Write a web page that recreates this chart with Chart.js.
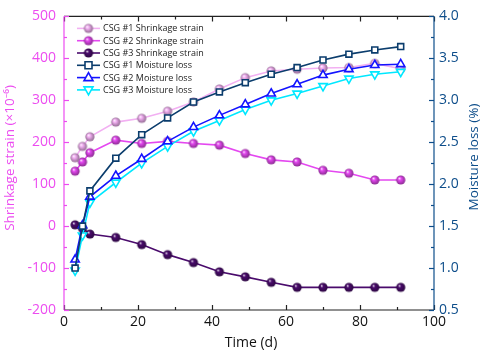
<!DOCTYPE html>
<html>
<head>
<meta charset="utf-8">
<script src="https://cdn.jsdelivr.net/npm/chart.js@4.4.0/dist/chart.umd.min.js"></script>
<style>
  html, body { margin: 0; padding: 0; background: #fff; }
  #wrap { width: 484px; height: 354px; }
</style>
</head>
<body>
<div id="wrap"><canvas id="chart" width="484" height="354"></canvas></div>
<script>
// curing age (days)
const days = [3, 5, 7, 14, 21, 28, 35, 42, 49, 56, 63, 70, 77, 84, 91];

// shrinkage strain (x10^-6), left axis
const shrink1 = [163, 190, 213, 248, 257, 274, 296, 327, 354, 370, 374, 377, 378, 388, 375];
const shrink2 = [131, 153, 175, 205, 197, 202, 197, 193, 173, 158, 153, 133, 126, 110, 110];
const shrink3 = [3, -5, -19, -27, -44, -68, -87, -109, -121, -134, -146, -146, -146, -146, -146];

// moisture loss (%), right axis
const moist1 = [1.00, 1.50, 1.92, 2.31, 2.59, 2.79, 2.98, 3.10, 3.21, 3.31, 3.39, 3.48, 3.55, 3.60, 3.64];
const moist2 = [1.10, 1.51, 1.85, 2.10, 2.30, 2.51, 2.68, 2.82, 2.95, 3.08, 3.19, 3.30, 3.37, 3.42, 3.43];
const moist3 = [0.97, 1.39, 1.78, 2.02, 2.25, 2.45, 2.63, 2.76, 2.89, 3.00, 3.08, 3.17, 3.26, 3.31, 3.34];

const seriesNames = [
    'CSG #1 Shrinkage strain', 'CSG #2 Shrinkage strain', 'CSG #3 Shrinkage strain',
    'CSG #1 Moisture loss', 'CSG #2 Moisture loss', 'CSG #3 Moisture loss'
];
const xTitle = 'Time (d)';
const leftTitle = 'Shrinkage strain (×10⁻⁶)';
const rightTitle = 'Moisture loss (%)';

const FONT = '"Open Sans", "Noto Sans", sans-serif';
const LEFT_COLOR = '#ec4cf0';
const RIGHT_COLOR = '#0d4d8a';

// shaded ball marker like the Origin "sphere" symbol
function sphere(color, r) {
    const c = document.createElement('canvas');
    const s = Math.ceil(r * 2 + 2);
    c.width = s;
    c.height = s;
    const g = c.getContext('2d');
    const cx = s / 2, cy = s / 2;
    const grad = g.createRadialGradient(cx - r * 0.35, cy - r * 0.4, 0, cx, cy, r);
    grad.addColorStop(0, '#ffffff');
    grad.addColorStop(0.35, color);
    grad.addColorStop(1, shade(color, 0.6));
    g.fillStyle = grad;
    g.beginPath();
    g.arc(cx, cy, r, 0, Math.PI * 2);
    g.fill();
    return c;
}

function shade(hex, f) {
    const n = parseInt(hex.slice(1), 16);
    const r = Math.round(((n >> 16) & 255) * f);
    const gg = Math.round(((n >> 8) & 255) * f);
    const b = Math.round((n & 255) * f);
    return `rgb(${r},${gg},${b})`;
}

const colors = ['#f2b0f2', '#e448f0', '#4a0b6c', '#0b3d6d', '#1414ff', '#00e8ff'];
const balls = colors.slice(0, 3).map(c => sphere(c, 4.6));

function shrinkSet(i, vals) {
    return {
        label: seriesNames[i],
        data: days.map((d, k) => ({ x: d, y: vals[k] })),
        yAxisID: 'y',
        borderColor: colors[i],
        borderWidth: 1.6,
        pointStyle: balls[i],
        pointRadius: 5,
        order: 3 + i,
    };
}

function moistSet(i, vals, style, rot) {
    return {
        label: seriesNames[i],
        data: days.map((d, k) => ({ x: d, y: vals[k] })),
        yAxisID: 'y1',
        borderColor: colors[i],
        borderWidth: 1.6,
        pointStyle: style,
        rotation: rot,
        pointRadius: style === 'rect' ? 4.2 : 4.8,
        pointBorderWidth: 1.6,
        pointBackgroundColor: '#ffffff',
        pointBorderColor: colors[i],
        order: i - 3,
    };
}

// draws inward ticks, axis frame, axis titles and the legend box
const framePlugin = {
    id: 'frame',
    afterDraw(chart) {
        const { ctx, chartArea: a, scales } = chart;
        ctx.save();
        ctx.lineWidth = 1.2;

        // bottom / top
        ctx.strokeStyle = '#222';
        for (let v = 0; v <= 100; v += 10) {
            const px = Math.round(scales.x.getPixelForValue(v)) + 0.5;
            const len = v % 20 === 0 ? 5 : 3;
            ctx.beginPath();
            ctx.moveTo(px, a.bottom); ctx.lineTo(px, a.bottom - len);
            ctx.moveTo(px, a.top); ctx.lineTo(px, a.top + len);
            ctx.stroke();
        }
        ctx.beginPath();
        ctx.moveTo(a.left, a.bottom); ctx.lineTo(a.right, a.bottom);
        ctx.moveTo(a.left, a.top); ctx.lineTo(a.right, a.top);
        ctx.stroke();

        // left axis
        ctx.strokeStyle = LEFT_COLOR;
        for (let v = -200; v <= 500; v += 50) {
            const py = Math.round(scales.y.getPixelForValue(v)) + 0.5;
            const len = v % 100 === 0 ? 5 : 3;
            ctx.beginPath();
            ctx.moveTo(a.left, py); ctx.lineTo(a.left + len, py);
            ctx.stroke();
        }
        ctx.beginPath();
        ctx.moveTo(a.left, a.top); ctx.lineTo(a.left, a.bottom);
        ctx.stroke();

        // right axis
        ctx.strokeStyle = RIGHT_COLOR;
        for (let v = 0.5; v <= 4.0001; v += 0.25) {
            const py = Math.round(scales.y1.getPixelForValue(v)) + 0.5;
            const len = Math.abs(v * 2 - Math.round(v * 2)) < 1e-6 ? 5 : 3;
            ctx.beginPath();
            ctx.moveTo(a.right, py); ctx.lineTo(a.right - len, py);
            ctx.stroke();
        }
        ctx.beginPath();
        ctx.moveTo(a.right, a.top); ctx.lineTo(a.right, a.bottom);
        ctx.stroke();

        // axis titles (both vertical ones read bottom-to-top)
        ctx.textAlign = 'center';
        ctx.textBaseline = 'middle';
        ctx.font = '14px ' + FONT;
        ctx.fillStyle = '#111';
        ctx.fillText(xTitle, (a.left + a.right) / 2 + 2, 343);
        ctx.font = '13.5px ' + FONT;
        ctx.fillStyle = LEFT_COLOR;
        ctx.save();
        ctx.translate(10, 158);
        ctx.rotate(-Math.PI / 2);
        ctx.fillText(leftTitle, 0, 0);
        ctx.restore();
        ctx.fillStyle = RIGHT_COLOR;
        ctx.save();
        ctx.translate(474, 157);
        ctx.rotate(-Math.PI / 2);
        ctx.fillText(rightTitle, 0, 0);
        ctx.restore();

        // legend
        const x0 = a.left + 13, x1 = a.left + 36, mx = (x0 + x1) / 2;
        ctx.font = '9px ' + FONT;
        ctx.textAlign = 'left';
        chart.data.datasets.forEach((ds, i) => {
            const y = a.top + 12 + i * 12.3;
            ctx.strokeStyle = ds.borderColor;
            ctx.lineWidth = 1.6;
            ctx.beginPath();
            ctx.moveTo(x0, y); ctx.lineTo(x1, y);
            ctx.stroke();
            if (i < 3) {
                const img = ds.pointStyle;
                ctx.drawImage(img, mx - img.width / 2, y - img.height / 2);
            } else {
                ctx.fillStyle = '#fff';
                ctx.beginPath();
                if (i === 3) {
                    ctx.rect(mx - 3.5, y - 3.5, 7, 7);
                } else if (i === 4) {
                    ctx.moveTo(mx, y - 5); ctx.lineTo(mx + 4.5, y + 3); ctx.lineTo(mx - 4.5, y + 3); ctx.closePath();
                } else {
                    ctx.moveTo(mx, y + 5); ctx.lineTo(mx + 4.5, y - 3); ctx.lineTo(mx - 4.5, y - 3); ctx.closePath();
                }
                ctx.fill();
                ctx.stroke();
            }
            ctx.fillStyle = '#222';
            ctx.fillText(ds.label, x1 + 3, y + 0.5);
        });
        ctx.restore();
    }
};

new Chart(document.getElementById('chart'), {
    type: 'line',
    data: {
        datasets: [
            shrinkSet(0, shrink1),
            shrinkSet(1, shrink2),
            shrinkSet(2, shrink3),
            moistSet(3, moist1, 'rect', 0),
            moistSet(4, moist2, 'triangle', 0),
            moistSet(5, moist3, 'triangle', 180),
        ],
    },
    options: {
        responsive: false,
        animation: false,
        layout: { padding: { top: 9, left: 0, right: 0, bottom: 0 } },
        plugins: {
            legend: { display: false },
            tooltip: { enabled: false },
        },
        scales: {
            x: {
                type: 'linear',
                min: 0,
                max: 100,
                afterFit: s => { s.height = 44; },
                grid: { display: false, drawTicks: false },
                border: { display: false },
                ticks: { stepSize: 20, color: '#111', padding: 4, font: { family: FONT, size: 14 } },
            },
            y: {
                position: 'left',
                min: -200,
                max: 500,
                afterFit: s => { s.width = 64; },
                grid: { display: false, drawTicks: false },
                border: { display: false },
                ticks: { stepSize: 100, color: LEFT_COLOR, padding: 8, font: { family: FONT, size: 14 } },
            },
            y1: {
                position: 'right',
                min: 0.5,
                max: 4.0,
                afterFit: s => { s.width = 50; },
                grid: { display: false, drawTicks: false },
                border: { display: false },
                ticks: {
                    stepSize: 0.5,
                    color: RIGHT_COLOR,
                    padding: 5,
                    font: { family: FONT, size: 14 },
                    callback: v => v.toFixed(1),
                },
            },
        },
    },
    plugins: [framePlugin],
});
</script>
</body>
</html>
